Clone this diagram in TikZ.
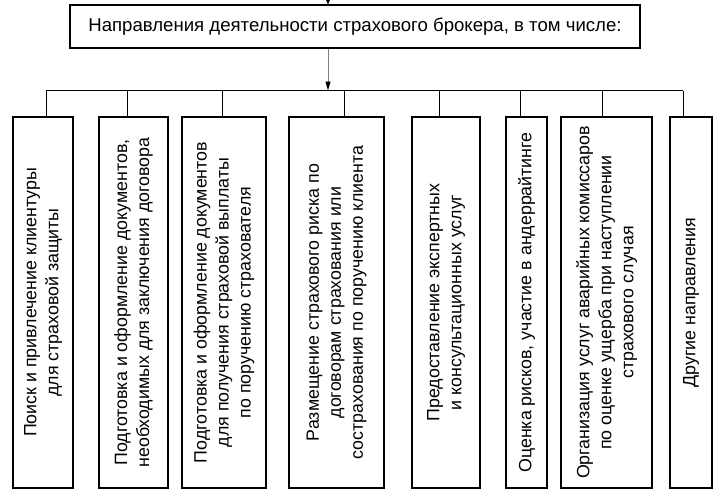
\documentclass[tikz,border=0pt]{standalone}
\usepackage{fontspec}
\setmainfont{Liberation Sans}
\usetikzlibrary{arrows.meta, positioning, calc}

\tikzset{
  box/.style={draw, line width=1.2pt, inner sep=1pt, align=center},
  branch/.style={box, rotate=90, minimum width=371pt,
    font=\fontsize{17.8}{22}\selectfont},
  feed/.style={draw=gray, line width=0.8pt,
    -{Triangle[length=9pt, width=5pt, color=black]}},
}

\begin{document}
\begin{tikzpicture}[x=1pt, y=-1pt]
\useasboundingbox (0,0) rectangle (713,493);

\node[box, minimum width=570pt, minimum height=43pt,
  font=\fontsize{18.6}{22}\selectfont] (head) at (355,26.5)
  {Направления деятельности страхового брокера, в том числе:};

\coordinate (src) at (328,0);
\coordinate (hub) at (328,90.5);
\draw[line width=0.8pt, -{Triangle[length=6pt, width=5pt]}] (src) -- (head.north -| src);
\draw[feed] (head.south -| hub) -- (hub);

\foreach \i/\cx/\w/\dx/\t in {
    1/43/60/46/{Поиск и привлечение клиентуры\\для страховой защиты},
    2/133.5/69/127/{Подготовка и оформление документов,\\необходимых для заключения договора},
    3/224/84/222/{Подготовка и оформление документов\\для получения страховой выплаты\\по поручению страхователя},
    4/336.5/95/344/{Размещение страхового риска по\\договорам страхования  или\\сострахования  по поручению клиента},
    5/446/68/439/{Предоставление экспертных\\и консультационных услуг},
    6/526.5/41/520/{Оценка рисков, участие в андеррайтинге},
    7/606.5/91/602/{Организация услуг аварийных комиссаров\\по оценке ущерба при наступлении\\страхового случая},
    8/691/42/683/{Другие направления}}
{
    \node[branch, minimum height=\w pt] (b\i) at (\cx,302.5) {\t};
    \coordinate (d\i) at (\dx,90.5);
    \draw[line width=0.8pt] (d\i) -- (b\i.east -| d\i);
}

\draw[line width=0.8pt] (d1) -- (d8);

\end{tikzpicture}
\end{document}
